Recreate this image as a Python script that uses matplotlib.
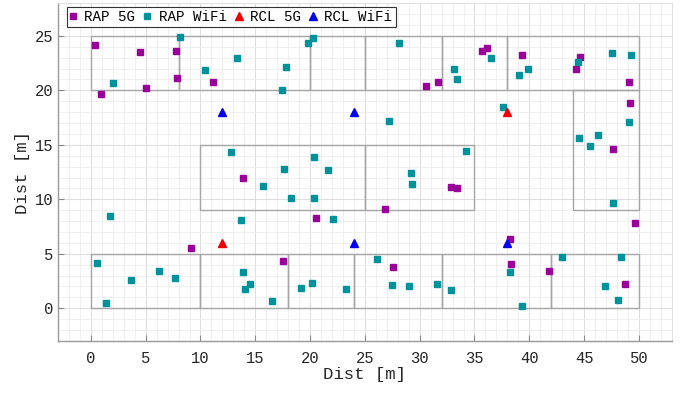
"""Scatter of RAP / RCL positions over the floor plan grid."""

from matplotlib import pyplot as plt
from matplotlib.patches import Rectangle
from matplotlib.ticker import MultipleLocator

plt.rcParams['font.family'] = ['Liberation Mono', 'DejaVu Sans Mono']

# Room outlines: (x0, y0, x1, y1) in metres.
ROOMS = [
    (0, 20, 8, 25), (8, 20, 20, 25), (20, 20, 25, 25), (25, 20, 32, 25),
    (32, 20, 38, 25), (38, 20, 50, 25),
    (44, 9, 50, 20),
    (10, 9, 25, 15), (25, 9, 35, 15),
    (0, 0, 10, 5), (10, 0, 18, 5), (18, 0, 24, 5), (24, 0, 32, 5),
    (32, 0, 42, 5), (42, 0, 50, 5),
]

rap5g_x = [0.4, 0.9, 4.5, 5.0, 7.8, 7.9, 11.1, 30.6, 31.7, 35.7, 36.1, 39.3,
           44.6, 44.3, 49.1, 49.2, 13.9, 20.5, 26.8, 32.9, 33.4, 47.6, 49.6,
           38.2, 9.1, 17.5, 27.6, 38.3, 41.8, 48.7]
rap5g_y = [24.2, 19.7, 23.5, 20.2, 23.6, 21.1, 20.8, 20.4, 20.8, 23.6, 23.9,
           23.2, 23.1, 22.0, 20.8, 18.8, 12.0, 8.3, 9.1, 11.1, 11.0, 14.6, 7.8,
           6.4, 5.5, 4.3, 3.8, 4.1, 3.4, 2.2]

rapwifi_x = [2.0, 8.1, 10.4, 13.3, 17.4, 17.8, 19.8, 20.3, 28.1, 27.2, 33.1,
             33.4, 36.5, 39.1, 39.9, 37.6, 44.4, 47.5, 49.3, 49.1,
             12.8, 15.7, 17.6, 18.3, 20.4, 21.6, 20.4, 1.7, 13.7, 22.1, 34.2,
             29.2, 29.3, 44.5, 46.3, 45.5, 47.6,
             0.6, 1.4, 3.7, 6.2, 7.7, 13.9, 14.5, 14.1, 16.5, 19.2, 20.2, 23.3,
             26.1, 27.5, 29.0, 31.6, 32.9, 38.2, 39.3, 43.0, 48.4, 46.9, 48.1]
rapwifi_y = [20.7, 24.9, 21.9, 23.0, 20.0, 22.1, 24.3, 24.8, 24.3, 17.2, 22.0,
             21.0, 23.0, 21.4, 22.0, 18.5, 22.6, 23.4, 23.2, 17.1,
             14.3, 11.2, 12.8, 10.1, 13.9, 12.7, 10.1, 8.5, 8.1, 8.2, 14.4,
             12.4, 11.4, 15.6, 15.9, 14.9, 9.7,
             4.2, 0.5, 2.6, 3.4, 2.8, 3.3, 2.2, 1.8, 0.7, 1.9, 2.3, 1.8,
             4.5, 2.1, 2.0, 2.2, 1.7, 3.3, 0.2, 4.7, 4.7, 2.0, 0.8]

rcl5g_x = [12, 38]
rcl5g_y = [6, 18]

rclwifi_x = [12, 24, 24, 38]
rclwifi_y = [18, 18, 6, 6]

fig = plt.figure(figsize=(6.92, 3.96), dpi=100)
ax = fig.add_axes([0.0838, 0.139, 0.887, 0.853])

for (x0, y0, x1, y1) in ROOMS:
    ax.add_patch(Rectangle((x0, y0), x1 - x0, y1 - y0, fill=False,
                           edgecolor='#a6a6a6', linewidth=1.0, zorder=2))

ax.plot(rap5g_x, rap5g_y, 's', color='#990099', markersize=4.3,
        label='RAP 5G', zorder=3)
ax.plot(rapwifi_x, rapwifi_y, 's', color='#00929a', markersize=4.3,
        label='RAP WiFi', zorder=3)
ax.plot(rcl5g_x, rcl5g_y, '^', color='#ee0000', markersize=6,
        label='RCL 5G', zorder=3)
ax.plot(rclwifi_x, rclwifi_y, '^', color='#0000ee', markersize=6,
        label='RCL WiFi', zorder=3)

ax.set_xlim(-3, 53)
ax.set_ylim(-3, 28)
ax.xaxis.set_major_locator(MultipleLocator(5))
ax.yaxis.set_major_locator(MultipleLocator(5))
ax.xaxis.set_minor_locator(MultipleLocator(1))
ax.yaxis.set_minor_locator(MultipleLocator(1))
ax.grid(True, which='major', color='#dedede', linewidth=0.8)
ax.grid(True, which='minor', color='#ececec', linewidth=0.6)
ax.set_axisbelow(True)
ax.tick_params(which='major', direction='in', length=4, color='#888888',
               labelsize=11.2, labelcolor='#262626')
ax.tick_params(axis='x', pad=7)
ax.tick_params(axis='y', pad=3.5)
ax.tick_params(which='minor', length=0)
for side in ('top', 'right'):
    ax.spines[side].set_color('#e0e0e0')
for side in ('bottom', 'left'):
    ax.spines[side].set_color('#999999')
    ax.spines[side].set_linewidth(1.0)

ax.set_xlabel('Dist [m]', fontsize=12.5, color='#262626', labelpad=1)
ax.set_ylabel('Dist [m]', fontsize=12.5, color='#262626', labelpad=3)

leg = ax.legend(loc='upper left', ncol=4, fontsize=10.2, handlelength=0.35,
                handletextpad=0.62, columnspacing=0.68, borderpad=0.24,
                borderaxespad=0, fancybox=False, framealpha=1,
                edgecolor='#333333', bbox_to_anchor=(0.0147, 0.99))
leg.get_frame().set_linewidth(0.8)

fig.savefig('out.png', dpi=100)
